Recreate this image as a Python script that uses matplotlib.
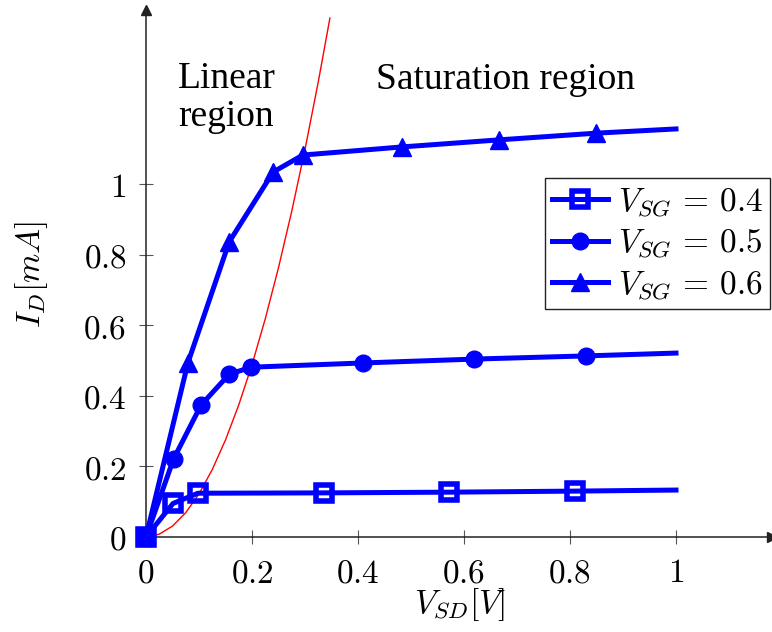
import matplotlib.pyplot as plt

plt.rcParams["mathtext.fontset"] = "cm"

# drain current curves, V_SD [V] / I_D [mA]
vsd_04 = [0, 0.051, 0.098, 0.336, 0.572, 0.81, 1.0]
id_04 = [0, 0.095, 0.124, 0.125, 0.127, 0.13, 0.133]
vsd_05 = [0, 0.052, 0.104, 0.157, 0.198, 0.409, 0.619, 0.83, 1.0]
id_05 = [0, 0.221, 0.374, 0.461, 0.481, 0.493, 0.504, 0.513, 0.521]
vsd_06 = [0, 0.079, 0.157, 0.24, 0.296, 0.483, 0.666, 0.849, 1.0]
id_06 = [0, 0.493, 0.836, 1.034, 1.082, 1.105, 1.125, 1.144, 1.156]

# linear / saturation boundary (red)
edge_x = [0, 0.025, 0.05, 0.075, 0.1, 0.125, 0.15, 0.175, 0.2, 0.225,
          0.25, 0.275, 0.3, 0.325, 0.347]
edge_y = [0, 0.008, 0.031, 0.069, 0.122, 0.191, 0.275, 0.374, 0.488,
          0.618, 0.763, 0.923, 1.098, 1.289, 1.47]

labels = [r"$V_{SG} \,=\, 0.4$", r"$V_{SG} \,=\, 0.5$", r"$V_{SG} \,=\, 0.6$"]
xticks = [0, 0.2, 0.4, 0.6, 0.8, 1]
xtick_labels = ["0", "0.2", "0.4", "0.6", "0.8", "1"]
yticks = [0, 0.2, 0.4, 0.6, 0.8, 1]
ytick_labels = ["0", "0.2", "0.4", "0.6", "0.8", "1"]

fig = plt.figure(figsize=(7.72, 6.32), dpi=100)
ax = fig.add_axes([146 / 772, 95 / 632, 626 / 772, 527 / 632])
ax.set_xlim(0, 626 / 530)
ax.set_ylim(0, 527 / 353)

blue = "#0000ff"
lw = 3.6
ax.plot(edge_x, edge_y, color="red", lw=1.0, zorder=2)
ax.plot(vsd_04, id_04, color=blue, lw=lw, marker="s", ms=12, mfc="none",
        mew=4, markevery=slice(0, -1), clip_on=False, label=labels[0], zorder=3)
ax.plot(vsd_05, id_05, color=blue, lw=lw, marker="o", ms=12,
        markevery=slice(0, -1), clip_on=False, label=labels[1], zorder=3)
ax.plot(vsd_06, id_06, color=blue, lw=lw, marker="^", ms=13,
        markevery=slice(0, -1), clip_on=False, label=labels[2], zorder=3)

for s in ["top", "right"]:
    ax.spines[s].set_visible(False)
for s in ["left", "bottom"]:
    ax.spines[s].set_color("#222222")
    ax.spines[s].set_linewidth(1.1)
ax.plot(1, 0, ">", color="#222222", ms=7, transform=ax.get_yaxis_transform(), clip_on=False)
ax.plot(0, 1, "^", color="#222222", ms=7, transform=ax.get_xaxis_transform(), clip_on=False)

ax.set_xticks(xticks)
ax.set_xticklabels([f"${t}$" for t in xtick_labels])
ax.set_yticks(yticks)
ax.set_yticklabels([f"${t}$" for t in ytick_labels])
ax.tick_params(direction="inout", length=10, width=0.8, color="#555555",
               labelsize=24, pad=9)

ax.text(0.06, 1.245, "Linear\nregion", family="Liberation Serif", fontsize=27,
        va="center", ha="left", linespacing=1.15)
ax.text(0.434, 1.295, "Saturation region", family="Liberation Serif",
        fontsize=27, va="center", ha="left")

fig.text(460 / 772, 1 - 605 / 632, r"$V_{SD}[V]$", fontsize=24, ha="center", va="center")
fig.text(32 / 772, 1 - 275 / 632, r"$I_D[mA]$", fontsize=24, ha="center",
         va="center", rotation=90)

leg = ax.legend(loc="upper right", bbox_to_anchor=(770 / 772, 1 - 178 / 632),
                bbox_transform=fig.transFigure, fontsize=24, handlelength=1.7,
                borderaxespad=0, fancybox=False, framealpha=1,
                borderpad=0.2, labelspacing=0.22, handletextpad=0.3)
leg.get_frame().set_edgecolor("#222222")
leg.get_frame().set_linewidth(1.0)

fig.savefig("out.png", dpi=100)
